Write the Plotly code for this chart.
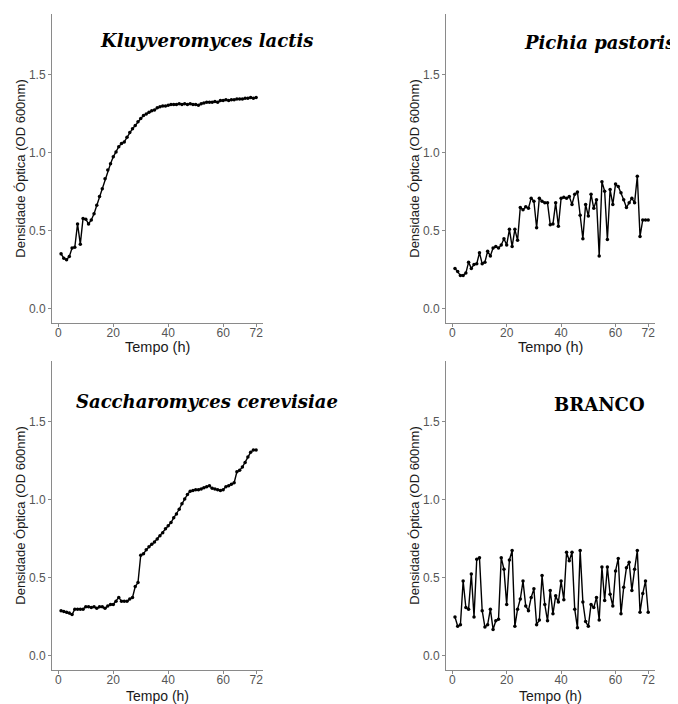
import plotly.graph_objects as go

hours = list(range(1, 73))

k_lactis = [0.353, 0.325, 0.315, 0.336, 0.39, 0.395, 0.545, 0.415, 0.58, 0.575,
            0.545, 0.57, 0.61, 0.665, 0.72, 0.77, 0.835, 0.89, 0.93, 0.975,
            1.005, 1.04, 1.06, 1.07, 1.10, 1.13, 1.155, 1.175, 1.20, 1.22,
            1.24, 1.25, 1.26, 1.27, 1.275, 1.29, 1.295, 1.30, 1.30, 1.305,
            1.31, 1.31, 1.31, 1.315, 1.31, 1.315, 1.31, 1.315, 1.31, 1.31,
            1.305, 1.315, 1.32, 1.325, 1.325, 1.325, 1.33, 1.325, 1.335, 1.335,
            1.34, 1.335, 1.34, 1.34, 1.345, 1.345, 1.345, 1.35, 1.35, 1.355,
            1.35, 1.355]

p_pastoris = [0.26, 0.24, 0.215, 0.215, 0.23, 0.30, 0.26, 0.285, 0.29, 0.36,
              0.29, 0.30, 0.37, 0.34, 0.39, 0.40, 0.39, 0.41, 0.45, 0.41,
              0.51, 0.40, 0.51, 0.44, 0.65, 0.635, 0.655, 0.645, 0.71, 0.69,
              0.52, 0.71, 0.69, 0.68, 0.68, 0.54, 0.545, 0.68, 0.53, 0.71,
              0.715, 0.71, 0.72, 0.67, 0.735, 0.75, 0.60, 0.45, 0.67, 0.595,
              0.735, 0.645, 0.70, 0.34, 0.815, 0.755, 0.445, 0.765, 0.67, 0.80,
              0.785, 0.745, 0.70, 0.65, 0.68, 0.71, 0.68, 0.85, 0.465, 0.57,
              0.57, 0.57]

s_cerevisiae = [0.29, 0.285, 0.28, 0.275, 0.265, 0.30, 0.30, 0.30, 0.30, 0.315,
                0.315, 0.31, 0.315, 0.305, 0.315, 0.315, 0.305, 0.32, 0.33, 0.33,
                0.35, 0.375, 0.35, 0.35, 0.35, 0.365, 0.375, 0.445, 0.47, 0.645,
                0.655, 0.68, 0.70, 0.715, 0.73, 0.75, 0.77, 0.79, 0.815, 0.835,
                0.855, 0.885, 0.91, 0.94, 0.975, 1.005, 1.035, 1.055, 1.06, 1.065,
                1.065, 1.07, 1.078, 1.085, 1.09, 1.075, 1.07, 1.065, 1.06, 1.065,
                1.085, 1.09, 1.10, 1.11, 1.18, 1.19, 1.21, 1.24, 1.275, 1.305,
                1.32, 1.32]

branco = [0.25, 0.19, 0.20, 0.48, 0.31, 0.30, 0.525, 0.25, 0.62, 0.63,
          0.29, 0.185, 0.20, 0.30, 0.17, 0.225, 0.235, 0.63, 0.555, 0.33,
          0.615, 0.675, 0.19, 0.30, 0.365, 0.48, 0.32, 0.29, 0.375, 0.43,
          0.20, 0.23, 0.515, 0.33, 0.225, 0.42, 0.27, 0.385, 0.345, 0.48,
          0.36, 0.665, 0.61, 0.665, 0.30, 0.18, 0.675, 0.345, 0.22, 0.19,
          0.33, 0.31, 0.375, 0.23, 0.57, 0.355, 0.57, 0.395, 0.32, 0.545,
          0.625, 0.27, 0.44, 0.565, 0.60, 0.42, 0.555, 0.675, 0.28, 0.40,
          0.48, 0.28]

titles = ["<i>Kluyveromyces lactis</i>", "<i>Pichia pastoris</i>",
          "<i>Saccharomyces cerevisiae</i>", "BRANCO"]
title_y = [1.72, 1.71, 1.63, 1.61]
x_ticks = [0, 20, 40, 60, 72]
y_ticks = [0, 0.5, 1.0, 1.5]
y_ticktext = ["0.0", "0.5", "1.0", "1.5"]
x_label = "Tempo (h)"
y_label = "Densidade Óptica (OD 600nm)"

series = [k_lactis, p_pastoris, s_cerevisiae, branco]

# page body has an 8px default margin; figure sized/placed to compensate
OFF = 8
W, H = 678 - OFF, 704 - OFF
x_domains = [[(52 - OFF) / W, (263 - OFF) / W], [(446 - OFF) / W, (655 - OFF) / W]]
y_domains = [[1 - (323 - OFF) / H, 1 - (14 - OFF) / H],
             [1 - (670 - OFF) / H, 1 - (361 - OFF) / H]]
xtitle_pos = [-0.078, -0.084]
xtitle_size = [14.5, 14]

fig = go.Figure()
layout = dict(
    width=W, height=H,
    margin=dict(l=0, r=0, t=0, b=0, autoexpand=False),
    paper_bgcolor="white", plot_bgcolor="white",
    showlegend=False,
    font=dict(family="Liberation Sans, Arial, sans-serif"),
)
annotations = []
axis_color = "#8a8a8a"
for i, vals in enumerate(series):
    r, c = divmod(i, 2)
    n = i + 1
    xa = "x" if n == 1 else f"x{n}"
    ya = "y" if n == 1 else f"y{n}"
    fig.add_trace(go.Scatter(
        x=hours, y=vals, mode="lines+markers",
        line=dict(color="black", width=1.4),
        marker=dict(color="black", size=3.5),
        xaxis=xa, yaxis=ya, hoverinfo="x+y",
    ))
    layout["xaxis" if n == 1 else f"xaxis{n}"] = dict(
        domain=x_domains[c], anchor=ya, range=[-2.3, 74.5], automargin=False,
        tickvals=x_ticks, ticktext=[str(t) for t in x_ticks],
        showgrid=False, zeroline=False, showline=True, linecolor=axis_color, linewidth=1,
        ticks="outside", ticklen=3, tickcolor=axis_color, tickwidth=1,
        ticklabelstandoff=-4,
        tickfont=dict(size=12, color="#555555"),
    )
    layout["yaxis" if n == 1 else f"yaxis{n}"] = dict(
        domain=y_domains[r], anchor=xa, range=[-0.09, 1.89], automargin=False,
        tickvals=y_ticks, ticktext=y_ticktext,
        showgrid=False, zeroline=False, showline=True, linecolor=axis_color, linewidth=1,
        ticks="outside", ticklen=3, tickcolor=axis_color, tickwidth=1,
        tickfont=dict(size=12, color="#555555"),
        title=dict(text=y_label, font=dict(size=13, color="#1a1a1a"), standoff=0),
    )
    # x-axis title placed just under the tick labels, as in the reference
    annotations.append(dict(
        x=0.5, y=xtitle_pos[r], xref=f"{xa} domain", yref=f"{ya} domain", text=x_label,
        showarrow=False, xanchor="center", yanchor="middle",
        font=dict(size=xtitle_size[r], color="#1a1a1a"),
    ))
    annotations.append(dict(
        x=54, y=title_y[i], xref=xa, yref=ya, text=f"<b>{titles[i]}</b>",
        showarrow=False, xanchor="center", yanchor="middle",
        font=dict(family="DejaVu Serif, serif", size=18, color="black"),
    ))
layout["annotations"] = annotations
fig.update_layout(**layout)
fig.write_html("out.html")
